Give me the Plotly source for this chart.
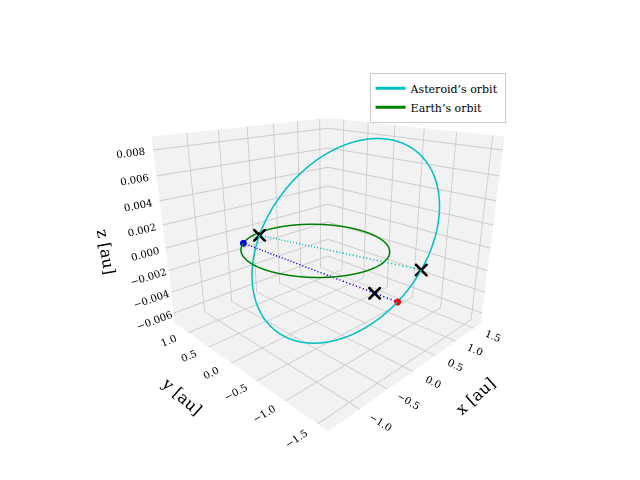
import numpy as np
import plotly.graph_objects as go

# Orbital elements
ast_a = 1.25; ast_e = 0.30; ast_inc_deg = 0.31; ast_node_deg = -75.0; ast_peri_deg = -140.0
earth_r = 1.0
blue_u_deg = 128.0   # Earth position angle
red_u_deg = -15.0    # asteroid position argument of latitude

def orbit_xyz(a, e, inc, node, peri, u):
    p = a*(1-e**2)
    nu = u - peri
    r = p/(1+e*np.cos(nu))
    n = np.array([np.cos(node), np.sin(node)])
    m = np.array([-np.sin(node), np.cos(node)])
    x = r*(np.cos(u)*n[0] + np.sin(u)*np.cos(inc)*m[0])
    y = r*(np.cos(u)*n[1] + np.sin(u)*np.cos(inc)*m[1])
    z = r*np.sin(u)*np.sin(inc)
    return x, y, z

d = np.pi/180
uu = np.linspace(0, 2*np.pi, 361)
el = (ast_a, ast_e, ast_inc_deg*d, ast_node_deg*d, ast_peri_deg*d)
ax_, ay_, az_ = orbit_xyz(*el, uu)
ex, ey = earth_r*np.cos(uu), earth_r*np.sin(uu)
ez = np.zeros_like(uu)

n2 = [v[0] for v in orbit_xyz(*el, np.array([0.0]))]
n1 = [v[0] for v in orbit_xyz(*el, np.array([np.pi]))]
rd = [v[0] for v in orbit_xyz(*el, np.array([red_u_deg*d]))]
bd = [np.cos(blue_u_deg*d), np.sin(blue_u_deg*d), 0.0]

cyan = '#00bfbf'
fig = go.Figure()
fig.add_trace(go.Scatter3d(x=ax_, y=ay_, z=az_, mode='lines', line=dict(color=cyan, width=3), name="Asteroid’s orbit"))
fig.add_trace(go.Scatter3d(x=ex, y=ey, z=ez, mode='lines', line=dict(color='green', width=3), name="Earth’s orbit"))
fig.add_trace(go.Scatter3d(x=[n1[0], n2[0]], y=[n1[1], n2[1]], z=[0, 0], mode='lines',
                           line=dict(color=cyan, width=3, dash='dash'), showlegend=False))
fig.add_trace(go.Scatter3d(x=[bd[0], rd[0]], y=[bd[1], rd[1]], z=[0, rd[2]], mode='lines',
                           line=dict(color='blue', width=3, dash='dash'), showlegend=False))
f = 0.87
mx = [n1[0], n2[0], bd[0] + f*(rd[0]-bd[0])]
my = [n1[1], n2[1], bd[1] + f*(rd[1]-bd[1])]
mz = [0, 0, f*rd[2]]
fig.add_trace(go.Scatter3d(x=mx, y=my, z=mz, mode='markers', marker=dict(symbol='x', color='black', size=3), showlegend=False))
fig.add_trace(go.Scatter3d(x=[bd[0]], y=[bd[1]], z=[0], mode='markers', marker=dict(color='blue', size=4), showlegend=False))
fig.add_trace(go.Scatter3d(x=[rd[0]], y=[rd[1]], z=[rd[2]], mode='markers', marker=dict(color='red', size=4), showlegend=False))

tf = dict(size=11, family='DejaVu Serif')
axstyle = dict(backgroundcolor='#f2f2f2', showbackground=True, gridcolor='#cccccc', zeroline=False,
               showspikes=False, tickfont=tf)
xt = [-1.0, -0.5, 0.0, 0.5, 1.0, 1.5]
yt = [-1.5, -1.0, -0.5, 0.0, 0.5, 1.0]
zt = [-0.006, -0.004, -0.002, 0.0, 0.002, 0.004, 0.006, 0.008]
fmt = lambda v, nd: f'{v:.{nd}f}'.replace('-', '−')
fig.update_layout(
    width=640, height=480, paper_bgcolor='white',
    font=dict(family='DejaVu Serif', color='black'),
    margin=dict(l=0, r=0, t=0, b=0),
    scene=dict(
        domain=dict(x=[0.1, 0.9], y=[0.08, 0.92]),
        xaxis=dict(title=dict(text='x [au]', font=dict(size=16)), range=[-1.5, 1.7], tickvals=xt, ticktext=[fmt(v, 1) for v in xt], **axstyle),
        yaxis=dict(title=dict(text='y [au]', font=dict(size=16)), range=[-1.65, 1.35], tickvals=yt, ticktext=[fmt(v, 1) for v in yt], **axstyle),
        zaxis=dict(title=dict(text='z [au]', font=dict(size=16)), range=[-0.007, 0.009],
                   tickvals=zt, ticktext=[fmt(v, 3) for v in zt], **axstyle),
        aspectmode='manual', aspectratio=dict(x=1, y=1, z=0.85),
        camera=dict(eye=dict(x=-1.4, y=-1.4, z=0.7), center=dict(x=0, y=0, z=-0.05)),
    ),
    legend=dict(x=0.565, y=0.865, xanchor='left', yanchor='top', bordercolor='#cccccc', borderwidth=1,
                bgcolor='white', font=dict(size=11)),
)
fig.write_html('out.html')
